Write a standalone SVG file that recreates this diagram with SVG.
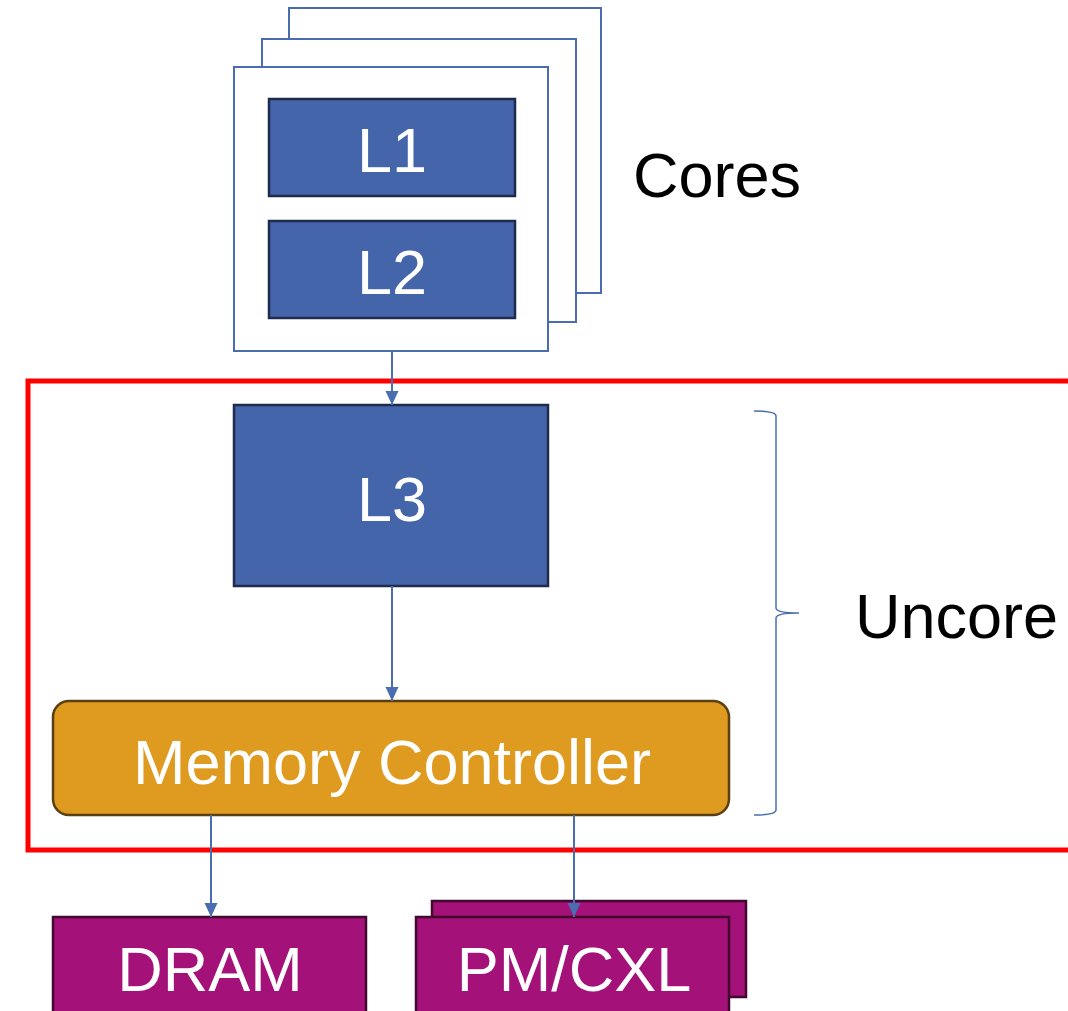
<svg xmlns="http://www.w3.org/2000/svg" width="1068" height="1011" viewBox="0 0 1068 1011">
<style>
.core{fill:#ffffff;stroke:#4a6db2;stroke-width:2}
.cache{fill:#4565aa;stroke:#1e2b4d;stroke-width:2.5}
.mc{fill:#df9b1f;stroke:#5a3f10;stroke-width:2.5}
.mem{fill:#a31179;stroke:#43082f;stroke-width:2.5}
.wt{font-family:"Liberation Sans",Arial,sans-serif;fill:#ffffff;text-anchor:middle}
.bt{font-family:"Liberation Sans",Arial,sans-serif;fill:#000000}
.conn{stroke:#4a6db2;stroke-width:2;fill:none}
</style>
<defs>
<marker id="ah" markerWidth="14" markerHeight="14" refX="14" refY="7" orient="auto" markerUnits="userSpaceOnUse">
<path d="M0,0.5 L14,7 L0,13.5 z" fill="#4a6db2"/>
</marker>
</defs>
<rect id="uncore-region" x="28" y="381" width="1060" height="469" fill="none" stroke="#ff0000" stroke-width="5"/>
<g id="cores">
<rect class="core" x="289" y="8" width="312" height="285"/>
<rect class="core" x="262" y="39" width="314" height="283"/>
<rect class="core" x="234" y="67" width="314" height="284"/>
</g>
<g id="l1"><rect class="cache" x="269" y="99" width="246" height="97"/><text class="wt" x="392" y="172" font-size="63">L1</text></g>
<g id="l2"><rect class="cache" x="269" y="221" width="246" height="97"/><text class="wt" x="392" y="294" font-size="63">L2</text></g>
<g id="l3"><rect class="cache" x="234" y="405" width="314" height="181"/><text class="wt" x="392" y="521" font-size="63">L3</text></g>
<g id="memctrl"><rect class="mc" x="53" y="701" width="676" height="114" rx="16"/><text class="wt" x="392" y="784" font-size="63">Memory Controller</text></g>
<g id="dram"><rect class="mem" x="53" y="917" width="313" height="110"/><text class="wt" x="210" y="991" font-size="63">DRAM</text></g>
<g id="pmcxl"><rect class="mem" x="432" y="901" width="314" height="96"/><rect class="mem" x="416" y="917" width="313" height="110"/><text class="wt" x="574" y="991" font-size="63">PM/CXL</text></g>
<g id="cores-label"><text class="bt" x="633" y="197" font-size="63">Cores</text></g>
<g id="uncore-label"><path d="M754,411 Q776,411 776,416 L776,608 Q776,613 799,613 Q776,613 776,618 L776,810 Q776,815 754,815" fill="none" stroke="#4a6db2" stroke-width="1.5"/><text class="bt" x="855" y="638" font-size="63">Uncore</text></g>
<g id="connectors">
<line class="conn" x1="392" y1="351" x2="392" y2="405" marker-end="url(#ah)"/>
<line class="conn" x1="392" y1="586" x2="392" y2="701" marker-end="url(#ah)"/>
<line class="conn" x1="211" y1="815" x2="211" y2="917" marker-end="url(#ah)"/>
<line class="conn" x1="574" y1="815" x2="574" y2="917" marker-end="url(#ah)"/>
</g>
</svg>
